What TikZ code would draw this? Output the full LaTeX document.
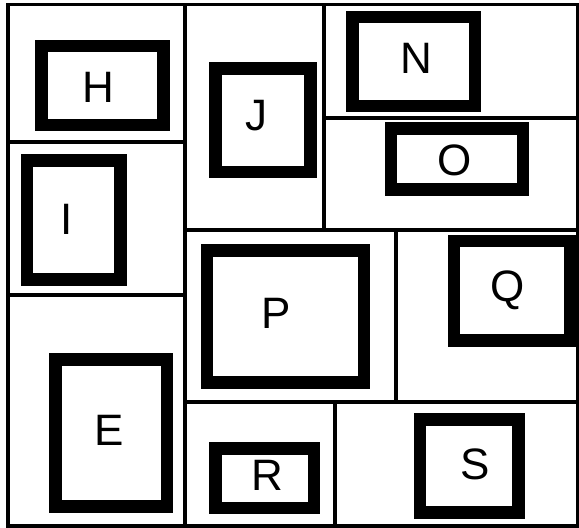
\documentclass[tikz,border=0pt]{standalone}
\usepackage{fontspec}
\setmainfont{Liberation Sans}
\begin{document}
\begin{tikzpicture}[x=1pt,y=-1pt,
  frame/.style={line width=3.4pt},
  bx/.style={draw,line width=12.5pt,inner sep=0pt,outer sep=0pt},
  lab/.style={inner sep=0pt,anchor=base,font=\fontsize{44}{44}\selectfont}]
\useasboundingbox[fill=white] (0,0) rectangle (579,528);
% frame and dividers
\draw[frame] (8,4.7) rectangle (577.5,526);
\draw[frame] (185,4.7) -- (185,526);
\draw[frame] (8,142) -- (185,142);
\draw[frame] (8,295) -- (185,295);
\draw[frame] (324,4.7) -- (324,230);
\draw[frame] (185,230) -- (577.5,230);
\draw[frame] (324,118) -- (577.5,118);
\draw[frame] (396,230) -- (396,402);
\draw[frame] (185,402) -- (577.5,402);
\draw[frame] (335,402) -- (335,526);
% boxes
\node[bx,minimum width=122.4pt,minimum height=78.6pt] (H) at (102.5,85.5) {};
\node[bx,minimum width=93.3pt,minimum height=119.4pt] (I) at (73.7,220) {};
\node[bx,minimum width=95.2pt,minimum height=103.3pt] (J) at (262.9,120.3) {};
\node[bx,minimum width=122.7pt,minimum height=88.6pt] (N) at (413.8,61.5) {};
\node[bx,minimum width=132.2pt,minimum height=61pt] (O) at (457.1,159) {};
\node[bx,minimum width=111.3pt,minimum height=146.6pt] (E) at (111.3,433) {};
\node[bx,minimum width=157pt,minimum height=132.4pt] (P) at (285.5,316.5) {};
\node[bx,minimum width=116.5pt,minimum height=99.7pt] (Q) at (512,290.8) {};
\node[bx,minimum width=98.5pt,minimum height=59.7pt] (R) at (264.5,478.2) {};
\node[bx,minimum width=98.9pt,minimum height=92.8pt] (S) at (469.2,466.1) {};
% labels
\node[lab] (lH) at (98.5,102.3) {H};
\node[lab] (lI) at (66.7,234.3) {I};
\node[lab] (lJ) at (256,130) {J};
\node[lab] (lN) at (416.3,73.3) {N};
\node[lab] (lO) at (455,175.5) {O};
\node[lab] (lE) at (109.2,445.7) {E};
\node[lab] (lP) at (276,328.3) {P};
\node[lab] (lQ) at (508,301) {Q};
\node[lab] (lR) at (267.5,490.7) {R};
\node[lab] (lS) at (475.2,479.5) {S};
\end{tikzpicture}
\end{document}
